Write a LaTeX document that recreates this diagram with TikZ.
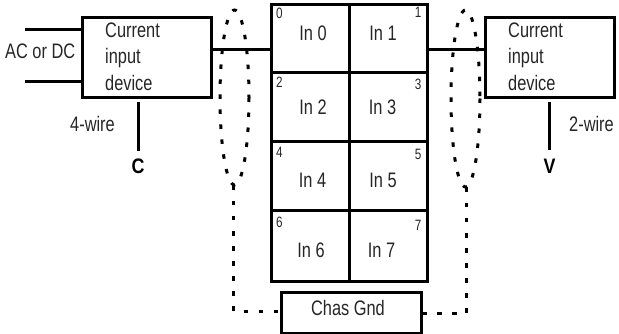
\documentclass[tikz,border=0pt]{standalone}
\usepackage{fontspec}
\setmainfont{Liberation Sans}[FakeStretch=0.78]
\newfontfamily\boldnarrow{Liberation Sans Bold}[FakeStretch=0.85]
\begin{document}
\begin{tikzpicture}[x=1pt,y=-1pt,
  wire/.style={line width=2.8pt},
  box/.style={draw,line width=3pt,outer sep=0pt,inner sep=0pt},
  rule/.style={line width=3pt},
  dots/.style={line width=3pt,dash pattern=on 4.5pt off 10.5pt},
  lbl/.style={inner sep=0pt,font=\fontsize{21}{24}\selectfont,text=black!85},
  num/.style={inner sep=0pt,font=\fontsize{15}{18}\selectfont,text=black!85},
  bold/.style={inner sep=0pt,font=\boldnarrow\fontsize{21}{24}\selectfont}]
\useasboundingbox (0,0) rectangle (619,334);
% grid
\node[box,anchor=north west,minimum width=156.5pt,minimum height=276pt] (grid) at (271,5) {};
\draw[rule] (349.5,5) -- (349.5,281);
\draw[rule] (271,73) -- (427.5,73);
\draw[rule] (271,142) -- (427.5,142);
\draw[rule] (271,211) -- (427.5,211);
% devices
\node[box,anchor=north west,minimum width=129pt,minimum height=80pt] (L) at (82,18) {};
\node[box,anchor=north west,minimum width=129pt,minimum height=80pt] (R) at (485,18) {};
\node[box,anchor=north west,minimum width=140.5pt,minimum height=41pt] (G) at (281,292) {};
% coordinates
\coordinate (gl) at (271,49.5);
\coordinate (gr) at (427.5,49.5);
\coordinate (a1) at (25,29.5);
\coordinate (a2) at (25,81.5);
\coordinate (c1) at (138.5,102);
\coordinate (c2) at (138.5,151);
\coordinate (v1) at (549.5,102);
\coordinate (v2) at (549.5,150);
% wires
\draw[wire] (a1) -- (82,29.5);
\draw[wire] (a2) -- (82,81.5);
\draw[wire] (L.east |- gl) -- (gl);
\draw[wire] (gr) -- (R.west |- gr);
\draw[wire] (c1) -- (c2);
\draw[wire] (v1) -- (v2);
% ellipses
\draw[dots] (234.5,97.5) ellipse [x radius=14.5,y radius=87.5];
\draw[dots] (465.5,98.5) ellipse [x radius=14.5,y radius=88.5];
\coordinate (eL) at (233.5,186);
\coordinate (eR) at (466.7,188);
\draw[dots] (eL) -- (233.5,311) -- (G.west |- 0,311);
\draw[dots] (eR) -- (466.7,313) -- (G.east |- 0,313);
% labels
\node[lbl,anchor=base west] (t1) at (105,37.5) {Current};
\node[lbl,anchor=base west] (t2) at (105,64) {input};
\node[lbl,anchor=base west] (t3) at (105,90.5) {device};
\node[lbl,anchor=base west] (t4) at (508,37.5) {Current};
\node[lbl,anchor=base west] (t5) at (508,64) {input};
\node[lbl,anchor=base west] (t6) at (508,90.5) {device};
\node[lbl,anchor=base west] (ac) at (5,59) {AC or DC};
\node[lbl,anchor=base west] (w4) at (70,131.5) {4-wire};
\node[lbl,anchor=base west] (w2) at (569,131.5) {2-wire};
\node[bold,anchor=base] (C) at (138,174) {C};
\node[bold,anchor=base] (V) at (549.5,174) {V};
\node[lbl,anchor=base] (i0) at (313,41) {In 0};
\node[lbl,anchor=base] (i1) at (383,41) {In 1};
\node[lbl,anchor=base] (i2) at (313,115) {In 2};
\node[lbl,anchor=base] (i3) at (382.5,115) {In 3};
\node[lbl,anchor=base] (i4) at (312.5,188) {In 4};
\node[lbl,anchor=base] (i5) at (383,188) {In 5};
\node[lbl,anchor=base] (i6) at (311,258) {In 6};
\node[lbl,anchor=base] (i7) at (381.5,258) {In 7};
\node[lbl,anchor=base] (cg) at (348,315) {Chas Gnd};
\node[num,anchor=base west] (n0) at (276,19) {0};
\node[num,anchor=base east] (n1) at (421.5,18) {1};
\node[num,anchor=base west] (n2) at (276,88) {2};
\node[num,anchor=base east] (n3) at (421.5,90) {3};
\node[num,anchor=base west] (n4) at (276,158) {4};
\node[num,anchor=base east] (n5) at (421.5,160) {5};
\node[num,anchor=base west] (n6) at (276,228) {6};
\node[num,anchor=base east] (n7) at (421.5,230) {7};
\end{tikzpicture}
\end{document}
